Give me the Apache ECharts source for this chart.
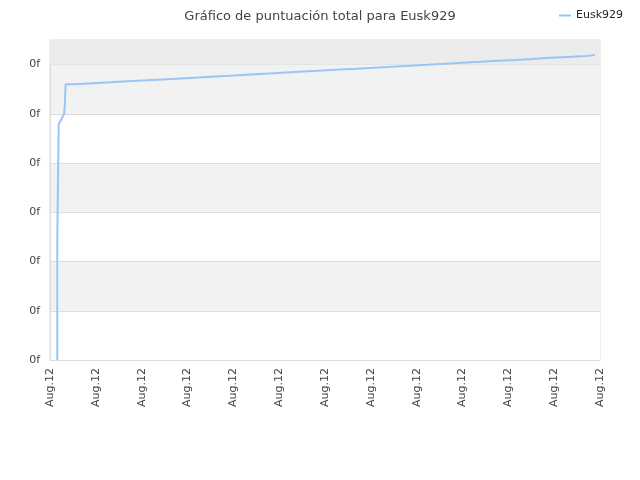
<!DOCTYPE html>
<html>
<head>
<meta charset="utf-8">
<script src="https://cdn.jsdelivr.net/npm/echarts@6/dist/echarts.min.js"></script>
<style>html,body{margin:0;padding:0;background:#fff}#c{width:640px;height:480px}</style>
</head>
<body>
<div id="c"></div>
<script>
var titleText = 'Gráfico de puntuación total para Eusk929';
var seriesName = 'Eusk929';
var xTickLabels = ['Aug.12','Aug.12','Aug.12','Aug.12','Aug.12','Aug.12','Aug.12','Aug.12','Aug.12','Aug.12','Aug.12','Aug.12','Aug.12'];
var yTickLabel = '0f';
var xValues = [0.159, 0.159, 0.19, 0.21, 0.23, 0.25, 0.27, 0.29, 0.31, 0.325, 0.34,
  0.545, 0.932, 1.309, 1.702, 2.095, 2.466, 2.858, 3.229, 3.622, 4.015,
  4.386, 4.778, 5.149, 5.542, 5.935, 6.306, 6.698, 7.069, 7.462, 7.855,
  8.226, 8.619, 8.990, 9.382, 9.775, 10.146, 10.539, 10.910, 11.302, 11.695, 11.891];
var yValues = [0, 2.42, 4.79, 4.83, 4.86, 4.90, 4.93, 4.96, 5.0, 5.2, 5.60,
  5.621, 5.640, 5.660, 5.680, 5.700, 5.720, 5.738, 5.759, 5.779, 5.799,
  5.818, 5.838, 5.858, 5.878, 5.899, 5.917, 5.937, 5.958, 5.978, 5.996,
  6.017, 6.037, 6.057, 6.078, 6.096, 6.116, 6.137, 6.157, 6.177, 6.195, 6.195];

var data = xValues.map(function (x, i) { return [x, yValues[i]]; });
var chart = echarts.init(document.getElementById('c'));
chart.setOption({
  animation: false,
  backgroundColor: '#ffffff',
  title: {
    text: titleText, left: 'center', top: 5,
    textStyle: { fontFamily: 'DejaVu Sans', fontSize: 13, fontWeight: 'normal', color: '#444' }
  },
  legend: {
    right: 12, top: 5, itemWidth: 12, itemHeight: 2, itemGap: 4,
    textStyle: { fontFamily: 'DejaVu Sans', fontSize: 11, color: '#222' },
    data: [{ name: seriesName, icon: 'rect' }]
  },
  grid: { left: 50, right: 40, top: 40, bottom: 120, show: true, borderColor: '#dcdcdc', borderWidth: 1 },
  xAxis: {
    type: 'value', min: 0, max: 12, interval: 1,
    axisLine: { show: true, lineStyle: { color: '#dcdcdc' } },
    axisTick: { show: false },
    splitLine: { show: false },
    axisLabel: {
      rotate: 90, fontFamily: 'DejaVu Sans', fontSize: 11, color: '#444', margin: 8,
      formatter: function (v) { var i = Math.round(v); return (Math.abs(v - i) < 1e-6 && xTickLabels[i]) ? xTickLabels[i] : ''; }
    }
  },
  yAxis: {
    type: 'value', min: 0, max: 6.5, interval: 1,
    axisLine: { show: true, lineStyle: { color: '#dcdcdc' } },
    axisTick: { show: false },
    splitLine: { show: true, lineStyle: { color: '#dcdcdc' } },
    splitArea: { show: true, areaStyle: { color: ['#ffffff', '#f2f2f2'] } },
    axisLabel: {
      fontFamily: 'DejaVu Sans', fontSize: 11, color: '#444', margin: 10,
      formatter: function (v) { return Math.abs(v - Math.round(v)) < 1e-6 ? yTickLabel : ''; }
    }
  },
  series: [{
    name: seriesName, type: 'line', step: 'end', data: data, symbol: 'none',
    lineStyle: { color: '#99c6f3', width: 2 }, itemStyle: { color: '#99c6f3' },
    markArea: {
      silent: true, itemStyle: { color: '#ececec' },
      data: [[{ yAxis: 6 }, { yAxis: 6.5 }]]
    },
    z: 3
  }]
});
</script>
</body>
</html>
